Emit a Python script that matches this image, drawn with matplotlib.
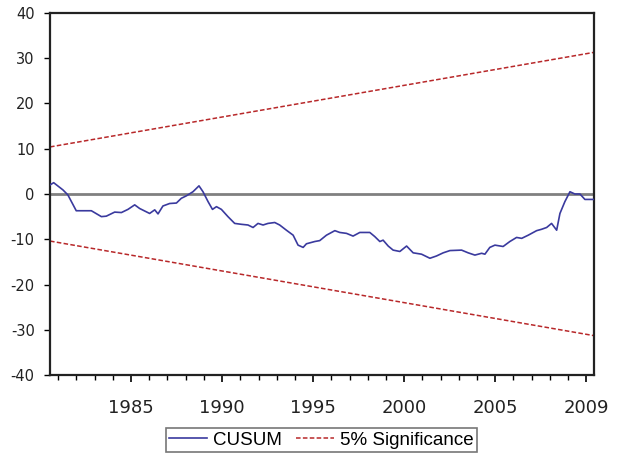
import numpy as np
import matplotlib
matplotlib.use('Agg')
import matplotlib.pyplot as plt

plt.rcParams['axes.unicode_minus'] = False

# CUSUM path (fractional year, value)
cusum_year = [1980.55, 1980.75, 1981.26, 1981.53, 1981.99, 1982.36, 1982.82, 1983.37,
              1983.64, 1984.10, 1984.47, 1984.83, 1985.20, 1985.47, 1986.02, 1986.30,
              1986.48, 1986.75, 1987.12, 1987.49, 1987.76, 1988.04, 1988.40, 1988.73,
              1988.95, 1989.23, 1989.47, 1989.69, 1989.96, 1990.32, 1990.69, 1991.06,
              1991.42, 1991.70, 1991.97, 1992.25, 1992.52, 1992.89, 1993.16, 1993.53,
              1993.90, 1994.17, 1994.45, 1994.63, 1995.09, 1995.36, 1995.73, 1996.19,
              1996.46, 1996.83, 1997.19, 1997.56, 1998.11, 1998.38, 1998.66, 1998.84,
              1999.12, 1999.39, 1999.76, 2000.13, 2000.49, 2000.95, 2001.41, 2001.77,
              2002.14, 2002.51, 2003.15, 2003.51, 2003.88, 2004.25, 2004.43, 2004.70,
              2004.98, 2005.43, 2005.80, 2006.17, 2006.45, 2006.81, 2007.27, 2007.54,
              2007.82, 2008.09, 2008.37, 2008.55, 2008.82, 2009.10, 2009.37, 2009.65,
              2009.92, 2010.38]
cusum_val = [2.0, 2.5, 0.9, -0.2, -3.7, -3.7, -3.7, -5.0,
             -4.9, -4.0, -4.1, -3.4, -2.4, -3.2, -4.3, -3.5,
             -4.4, -2.65, -2.1, -2.0, -0.95, -0.4, 0.5, 1.8,
             0.5, -1.7, -3.4, -2.8, -3.4, -5.0, -6.5, -6.7,
             -6.85, -7.4, -6.5, -6.85, -6.5, -6.3, -6.85, -8.0,
             -9.1, -11.3, -11.8, -11.0, -10.5, -10.3, -9.1, -8.1,
             -8.5, -8.7, -9.3, -8.5, -8.5, -9.4, -10.5, -10.2,
             -11.5, -12.4, -12.7, -11.5, -13.0, -13.3, -14.2, -13.7,
             -13.0, -12.5, -12.4, -13.0, -13.5, -13.1, -13.3, -11.8,
             -11.3, -11.6, -10.5, -9.6, -9.8, -9.1, -8.1, -7.8,
             -7.4, -6.5, -8.0, -4.3, -1.7, 0.5, 0.0, 0.0,
             -1.2, -1.2]

# 5% significance band (straight lines between the end points)
band_year = [1980.55, 2010.42]
band_upper = [10.4, 31.3]
band_lower = [-10.4, -31.3]

year_ticks = [1985, 1990, 1995, 2000, 2005, 2010]
year_labels = ['1985', '1990', '1995', '2000', '2005', '2009']
y_ticks = [-40, -30, -20, -10, 0, 10, 20, 30, 40]

fig = plt.figure(figsize=(6.19, 4.57), dpi=100)
ax = fig.add_axes([0.0808, 0.1794, 0.8788, 0.7922])

ax.axhline(0, color='#808080', lw=2.0, zorder=1)
ax.plot(cusum_year, cusum_val, color='#3a3a9e', lw=1.2, label='CUSUM', zorder=3)
ax.plot(band_year, band_upper, color='#b8282a', lw=1.1, ls=(0, (3, 1.5)),
        label='5% Significance', zorder=2)
ax.plot(band_year, band_lower, color='#b8282a', lw=1.1, ls=(0, (3, 1.5)), zorder=2)

ax.set_xlim(1980.55, 2010.42)
ax.set_ylim(-40, 40)

ax.set_yticks(y_ticks)
ax.set_yticklabels([str(v) for v in y_ticks], fontsize=10.5, family='DejaVu Sans',
                   color='#222222')
ax.set_xticks(year_ticks)
ax.set_xticklabels(year_labels, fontsize=13, family='DejaVu Sans', color='#222222')
ax.set_xticks(np.arange(1981, 2011), minor=True)

ax.tick_params(axis='y', direction='out', length=4, width=1, pad=7)
ax.tick_params(axis='x', which='major', direction='out', length=5, width=1.2, pad=12)
ax.tick_params(axis='x', which='minor', direction='out', length=3.5, width=1)

for s in ax.spines.values():
    s.set_linewidth(1.6)
    s.set_color('#222222')

leg = fig.legend(loc='center', bbox_to_anchor=(0.519, 0.037), ncol=2,
                 prop={'family': 'Liberation Sans', 'size': 13.5},
                 frameon=True, fancybox=False, edgecolor='#555555',
                 handlelength=2.0, handletextpad=0.3, columnspacing=0.8,
                 borderpad=0.2, borderaxespad=0)
leg.get_frame().set_linewidth(1.2)

fig.savefig('out.png', dpi=100)
